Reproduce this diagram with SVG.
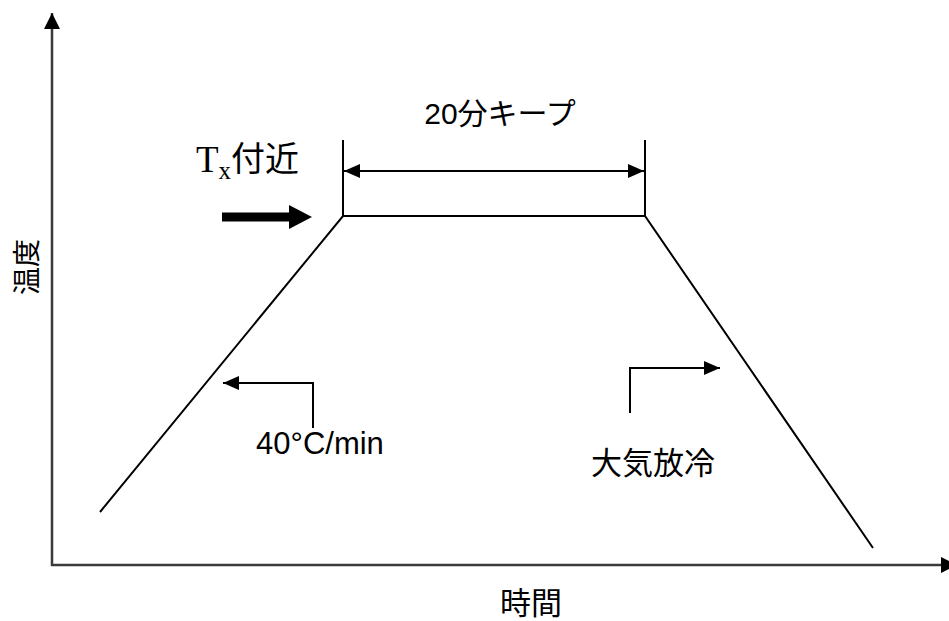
<svg xmlns="http://www.w3.org/2000/svg" width="949" height="621" viewBox="0 0 949 621">
<style>
.ax{stroke:#3a3a3a;stroke-width:2.5;fill:none}
.ln{stroke:#000;stroke-width:2;fill:none}
.jp{font-family:"Liberation Sans","Noto Sans CJK JP",sans-serif;fill:#000}
.sf{font-family:"Liberation Serif",serif;fill:#000}
</style>
<defs>
<marker id="ah" markerWidth="16" markerHeight="14" refX="16" refY="7" orient="auto-start-reverse" markerUnits="userSpaceOnUse"><path d="M0,0 L16,7 L0,14 Z" fill="#000"/></marker>
<marker id="axh" markerWidth="16" markerHeight="16" refX="16" refY="8" orient="auto" markerUnits="userSpaceOnUse"><path d="M0,0 L16,8 L0,16 Z" fill="#000"/></marker>
</defs>
<rect width="949" height="621" fill="#fff"/>
<g id="axes">
<line class="ax" x1="52" y1="566" x2="52" y2="13" marker-end="url(#axh)"/>
<line class="ax" x1="51" y1="565" x2="957" y2="565" marker-end="url(#axh)"/>
</g>
<g id="connectors">
<polyline class="ln" points="100,512 343,216 645,216 873,548"/>
<line class="ln" x1="343" y1="140" x2="343" y2="216"/>
<line class="ln" x1="645" y1="140" x2="645" y2="216"/>
<line class="ln" x1="344" y1="171" x2="644" y2="171" marker-start="url(#ah)" marker-end="url(#ah)"/>
<polyline class="ln" points="313,428 313,383 223,383" marker-end="url(#ah)"/>
<polyline class="ln" points="630,413 630,368 720,368" marker-end="url(#ah)"/>
<line x1="222" y1="217" x2="292" y2="217" stroke="#000" stroke-width="9"/>
<path d="M289,205 L312,217 L289,229 Z" fill="#000"/>
</g>
<g id="label-keep"><text class="jp" x="500" y="124" font-size="30" text-anchor="middle">20分キープ</text></g>
<g id="label-tx"><text x="196" y="172"><tspan class="sf" font-size="37">T</tspan><tspan class="sf" font-size="25" dy="7">x</tspan><tspan class="jp" font-size="34" dy="-8">付近</tspan></text></g>
<g id="label-rate"><text class="jp" x="256" y="454" font-size="31">40°C/min</text></g>
<g id="label-cool"><text class="jp" x="591" y="474" font-size="31">大気放冷</text></g>
<g id="label-time"><text class="jp" x="531" y="614" font-size="31" text-anchor="middle">時間</text></g>
<g id="label-temp"><text class="jp" transform="translate(37,267) rotate(-90)" font-size="28" text-anchor="middle">温度</text></g>
</svg>
